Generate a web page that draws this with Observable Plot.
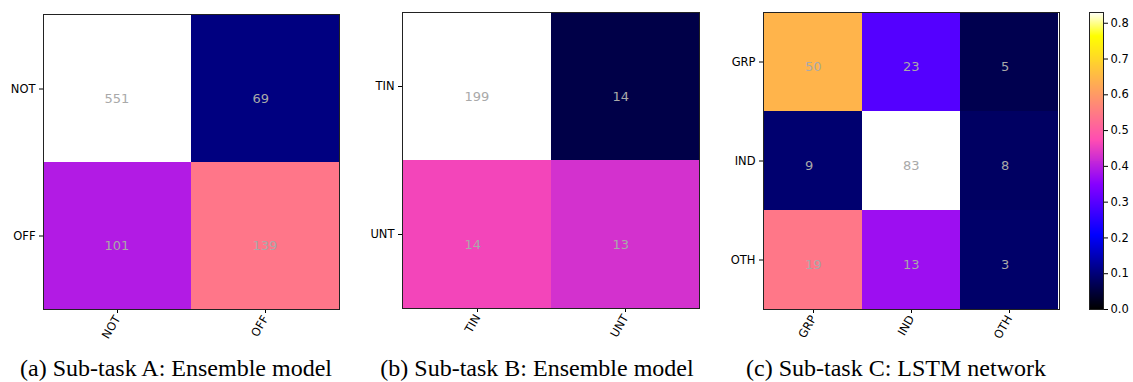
<!DOCTYPE html>
<html>
<head>
<meta charset="utf-8">
<script src="https://cdn.jsdelivr.net/npm/d3@7"></script>
<script src="https://cdn.jsdelivr.net/npm/@observablehq/plot@0.6"></script>
<style>
  html, body { margin: 0; padding: 0; background: #fff; }
  #root { position: relative; width: 1133px; height: 382px; overflow: hidden; background: #fff; }
  .panel { position: absolute; top: 0; }
  .cap { position: absolute; width: 400px; text-align: center; font-family: "Liberation Serif", "Times New Roman", serif; font-size: 24px; line-height: 24px; color: #000; white-space: nowrap; }
</style>
</head>
<body>
<div id="root"></div>
<script>
// ---- Data ----
const labelsA = ["NOT", "OFF"];
const countsA = [[551, 69], [101, 139]];
const labelsB = ["TIN", "UNT"];
const countsB = [[199, 14], [14, 13]];
const labelsC = ["GRP", "IND", "OTH"];
const countsC = [[50, 23, 5], [9, 83, 8], [19, 13, 3]];
const captions = ["(a) Sub-task A: Ensemble model", "(b) Sub-task B: Ensemble model", "(c) Sub-task C: LSTM network"];
const colorbarTicks = [0, 0.1, 0.2, 0.3, 0.4, 0.5, 0.6, 0.7, 0.8];

// matplotlib "gnuplot2" colormap
function gnuplot2(t) {
  const c = v => Math.max(0, Math.min(1, v));
  const r = c(t / 0.32 - 0.78125);
  const g = c(2 * t - 0.84);
  let b;
  if (t < 0.25) b = 4 * t;
  else if (t < 0.42) b = 1;
  else if (t < 0.92) b = -2 * t + 1.84;
  else b = t / 0.08 - 11.5;
  b = c(b);
  return d3.rgb(r * 255, g * 255, b * 255).toString();
}

// Row-normalised confusion matrix table
function table(labels, counts) {
  const rows = [];
  counts.forEach((row, i) => {
    const sum = d3.sum(row);
    row.forEach((v, j) => rows.push({ truth: labels[i], pred: labels[j], count: v, frac: v / sum }));
  });
  return rows;
}

const root = document.getElementById("root");
const baseStyle = { fontFamily: "DejaVu Sans, sans-serif", fontSize: "11.5px", color: "#000", background: "transparent", overflow: "visible" };

function matrix(labels, counts, opt) {
  const data = table(labels, counts);
  const vmax = d3.max(data, d => d.frac);
  return Plot.plot({
    width: opt.width, height: 350,
    marginLeft: opt.ml, marginRight: 6, marginTop: opt.mt, marginBottom: 350 - opt.mt - opt.ph,
    style: baseStyle,
    x: { type: "band", domain: labels, padding: 0, label: null, tickSize: 4, tickPadding: 3, tickRotate: -60 },
    y: { type: "band", domain: labels, padding: 0, label: null, tickSize: 4, tickPadding: 4 },
    color: { type: "linear", domain: [0, vmax], interpolate: gnuplot2, clamp: true },
    marks: [
      Plot.cell(data, { x: "pred", y: "truth", fill: "frac", inset: 0 }),
      Plot.text(data, { x: "pred", y: "truth", text: d => String(d.count), fill: "#a9a9a9",
        fontSize: 13, textAnchor: "start", dx: opt.dx, dy: opt.dy }),
      Plot.frame({ stroke: "#222", strokeWidth: 1 })
    ]
  });
}

function place(node, left) {
  node.classList.add("panel");
  node.style.left = left + "px";
  root.appendChild(node);
}

place(matrix(labelsA, countsA, { width: 345, ml: 43, mt: 14, ph: 295, dx: -13, dy: 10 }), 0);
place(matrix(labelsB, countsB, { width: 335, ml: 32, mt: 12, ph: 296, dx: -13, dy: 10 }), 370);
place(matrix(labelsC, countsC, { width: 345, ml: 43, mt: 12, ph: 297, dx: -8.5, dy: 5 }), 720);

// Colour bar for panel (c)
const tableC = table(labelsC, countsC);
const cmax = d3.max(tableC, d => d.frac);
const nSteps = 300;
const bar = d3.range(nSteps).map(i => ({ v0: cmax * i / nSteps, v1: cmax * (i + 1) / nSteps }));
const cbar = Plot.plot({
  width: 53, height: 350,
  marginLeft: 9, marginRight: 30, marginTop: 12, marginBottom: 41,
  style: baseStyle,
  y: { type: "linear", domain: [0, cmax], axis: "right", ticks: colorbarTicks, tickFormat: d3.format(".1f"), label: null, tickSize: 4, tickPadding: 3 },
  color: { type: "linear", domain: [0, cmax], interpolate: gnuplot2 },
  marks: [
    Plot.rect(bar, { y1: "v0", y2: "v1", fill: d => (d.v0 + d.v1) / 2, inset: 0, shapeRendering: "crispEdges" }),
    Plot.frame({ stroke: "#222", strokeWidth: 1 })
  ]
});
place(cbar, 1080);

// Captions
[176, 537, 896].forEach((cx, i) => {
  const d = document.createElement("div");
  d.className = "cap";
  d.style.left = (cx - 200) + "px";
  d.style.top = "356px";
  d.textContent = captions[i];
  root.appendChild(d);
});
</script>
</body>
</html>
